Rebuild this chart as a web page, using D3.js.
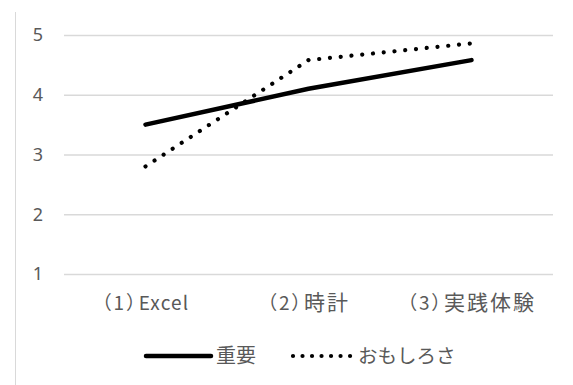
<!DOCTYPE html>
<html><head><meta charset="utf-8">
<script src="https://cdn.jsdelivr.net/npm/d3@7"></script>
<style>
html,body{margin:0;padding:0;background:#fff;}
svg{display:block;}
text{font-family:"Noto Sans CJK JP","Noto Sans",sans-serif;fill:#595959;}
</style></head>
<body>
<svg id="chart" width="573" height="385"></svg>
<script>
const categories = ["（1）Excel", "（2）時計", "（3）実践体験"];
const seriesNames = ["重要", "おもしろさ"];
const importance = [3.5, 4.1, 4.58];
const interest = [2.8, 4.58, 4.86];
const yTicks = [1, 2, 3, 4, 5];

const svg = d3.select("#chart");
const x = d3.scaleBand().domain(categories).range([64, 553]);
const y = d3.scaleLinear().domain([1, 5]).range([274, 35]);

// left border
svg.append("line").attr("x1", 15.5).attr("x2", 15.5).attr("y1", 12).attr("y2", 385)
  .attr("stroke", "#d9d9d9").attr("stroke-width", 1);

// gridlines
const yAxis = d3.axisLeft(y).tickValues(yTicks).tickSize(-(553 - 64)).tickPadding(21).tickFormat(d3.format("d"));
const gy = svg.append("g").attr("transform", "translate(64,0)").call(yAxis);
gy.select(".domain").remove();
gy.selectAll(".tick line").attr("stroke", "#d9d9d9").attr("stroke-width", 1.3);
gy.selectAll(".tick text").attr("font-size", 18).attr("fill", "#595959")
  .style("font-family", '"Noto Sans","Noto Sans CJK JP",sans-serif');

// x axis labels
const xAxis = d3.axisBottom(x).tickSize(0).tickPadding(29);
const gx = svg.append("g").attr("transform", "translate(0,274)").call(xAxis);
gx.select(".domain").remove();
gx.selectAll(".tick text").each(function(d) {
  const t = d3.select(this).text("").attr("font-size", 19).attr("fill", "#595959").attr("dy", "0.35em");
  const m = d.match(/^(（\d）)(.*)$/);
  t.append("tspan").style("font-feature-settings", '"palt"').attr("letter-spacing", 2.5).text(m[1]);
  const rest = m[2];
  if (/^[\x00-\x7f]+$/.test(rest)) {
    t.append("tspan").attr("letter-spacing", 1.2).text(rest);
  } else {
    t.append("tspan").attr("font-size", 21).attr("letter-spacing", 2).text(rest);
  }
});

const line = d3.line().x((d, i) => x(categories[i]) + x.bandwidth() / 2).y(d => y(d));

svg.append("path").datum(importance).attr("d", line)
  .attr("fill", "none").attr("stroke", "#000").attr("stroke-width", 4.5).attr("stroke-linecap", "round");
svg.append("path").datum(interest).attr("d", line)
  .attr("fill", "none").attr("stroke", "#000").attr("stroke-width", 4.2)
  .attr("stroke-linecap", "round").attr("stroke-dasharray", "0.01 10.8");

// legend
const lg = svg.append("g");
lg.append("line").attr("x1", 146).attr("x2", 211).attr("y1", 356).attr("y2", 356)
  .attr("stroke", "#000").attr("stroke-width", 4.5).attr("stroke-linecap", "round");
lg.append("text").attr("x", 216).attr("y", 356).attr("dy", "0.35em").attr("font-size", 20).text(seriesNames[0]);
lg.append("line").attr("x1", 293).attr("x2", 350.5).attr("y1", 356).attr("y2", 356)
  .attr("stroke", "#000").attr("stroke-width", 4.2).attr("stroke-linecap", "round").attr("stroke-dasharray", "0.01 9.5");
lg.append("text").attr("x", 358).attr("y", 356).attr("dy", "0.35em").attr("font-size", 19.5).text(seriesNames[1]);
</script>
</body></html>
